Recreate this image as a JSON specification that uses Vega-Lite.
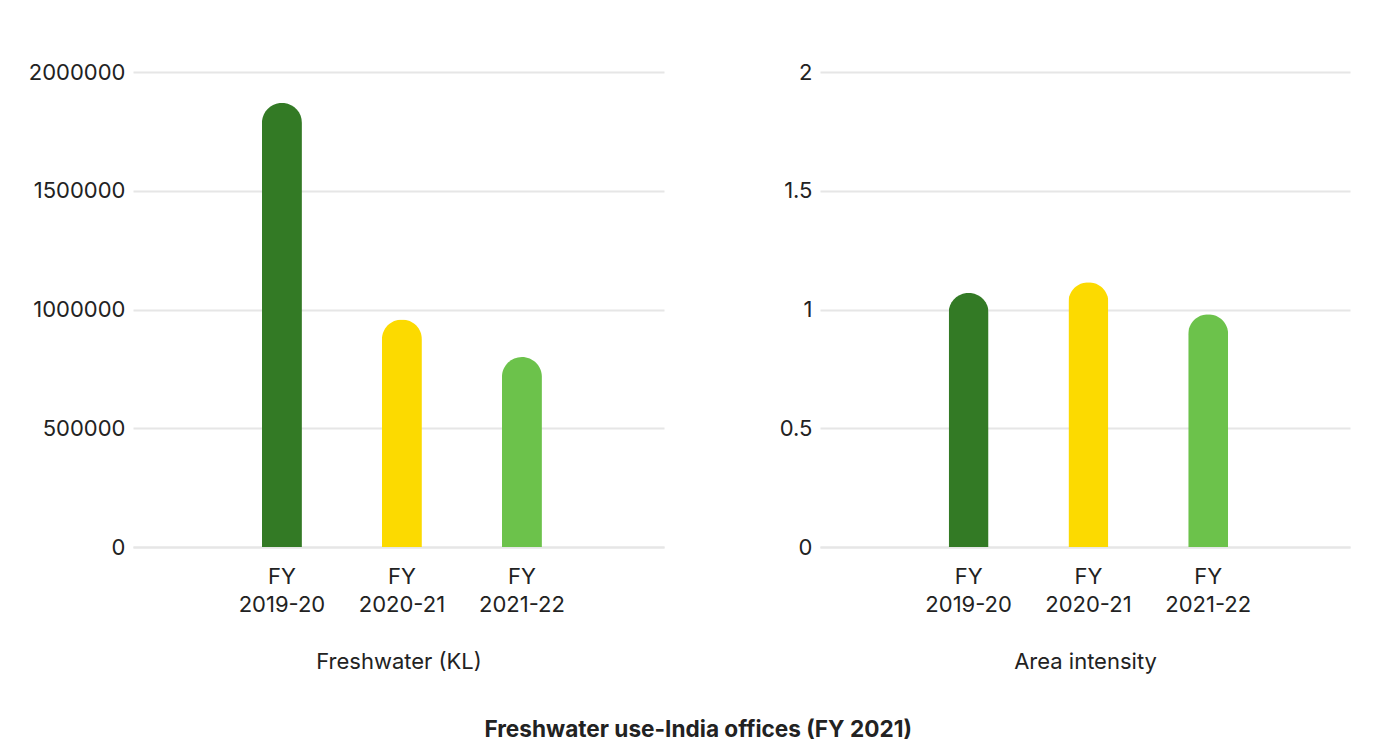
{
  "$schema": "https://vega.github.io/schema/vega-lite/v6.json",
  "background": "white",
  "padding": {"left": 28, "top": 61, "right": 18, "bottom": 10},
  "datasets": {
    "fresh": [
      {"year": "FY 2019-20", "value": 1870000},
      {"year": "FY 2020-21", "value": 958000},
      {"year": "FY 2021-22", "value": 800000}
    ],
    "intensity": [
      {"year": "FY 2019-20", "value": 1.07},
      {"year": "FY 2020-21", "value": 1.115},
      {"year": "FY 2021-22", "value": 0.98}
    ]
  },
  "title": {
    "text": "Freshwater use-India offices (FY 2021)",
    "orient": "bottom",
    "anchor": "middle",
    "fontSize": 22.6,
    "fontWeight": "bold",
    "font": "Inter",
    "color": "#222222",
    "offset": 47,
    "dx": 9
  },
  "spacing": 115,
  "config": {
    "view": {"stroke": null},
    "font": "Inter",
    "axis": {
      "labelFont": "Inter",
      "titleFont": "Inter",
      "labelFontSize": 22,
      "titleFontSize": 22,
      "labelColor": "#222222",
      "titleColor": "#222222",
      "titleFontWeight": "normal",
      "gridColor": "#e6e6e6",
      "gridWidth": 2,
      "domainColor": "#e6e6e6",
      "domainWidth": 2,
      "ticks": false
    }
  },
  "hconcat": [
    {
      "data": {"name": "fresh"},
      "width": 531,
      "height": 475,
      "mark": {"type": "bar", "width": 40, "cornerRadiusTopLeft": 20, "cornerRadiusTopRight": 20},
      "encoding": {
        "x": {
          "field": "year", "type": "nominal", "sort": null,
          "scale": {"paddingInner": 0, "paddingOuter": 0.7125, "align": 0.52},
          "axis": {"labelAngle": 0, "labelExpr": "split(datum.label, ' ')", "labelLineHeight": 28, "labelPadding": 19, "title": "Freshwater (KL)", "titlePadding": 36, "grid": false}
        },
        "y": {
          "field": "value", "type": "quantitative",
          "scale": {"domain": [0, 2000000]},
          "axis": {"title": null, "values": [0, 500000, 1000000, 1500000, 2000000], "format": "d", "domain": false, "labelPadding": 8}
        },
        "color": {
          "field": "year", "type": "nominal", "sort": null,
          "scale": {"range": ["#337a25", "#fcda00", "#6cc24b"]},
          "legend": null
        }
      }
    },
    {
      "data": {"name": "intensity"},
      "width": 530,
      "height": 475,
      "mark": {"type": "bar", "width": 40, "cornerRadiusTopLeft": 20, "cornerRadiusTopRight": 20},
      "encoding": {
        "x": {
          "field": "year", "type": "nominal", "sort": null,
          "scale": {"paddingInner": 0, "paddingOuter": 0.7125, "align": 0.52},
          "axis": {"labelAngle": 0, "labelExpr": "split(datum.label, ' ')", "labelLineHeight": 28, "labelPadding": 19, "title": "Area intensity", "titlePadding": 36, "grid": false}
        },
        "y": {
          "field": "value", "type": "quantitative",
          "scale": {"domain": [0, 2]},
          "axis": {"title": null, "values": [0, 0.5, 1, 1.5, 2], "format": "~g", "domain": false, "labelPadding": 8}
        },
        "color": {
          "field": "year", "type": "nominal", "sort": null,
          "scale": {"range": ["#337a25", "#fcda00", "#6cc24b"]},
          "legend": null
        }
      }
    }
  ],
  "resolve": {"scale": {"color": "independent"}}
}
